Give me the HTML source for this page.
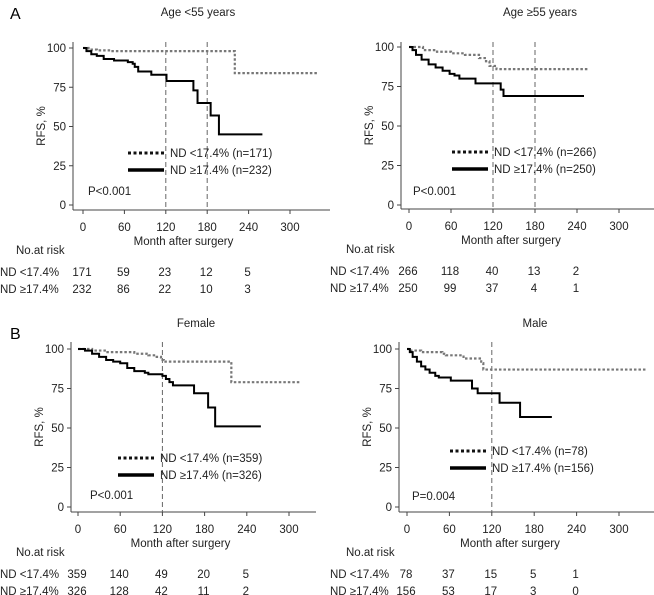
<!DOCTYPE html>
<html><head><meta charset="utf-8"><style>
body{margin:0;background:#fff;}
svg{display:block;font-family:"Liberation Sans",sans-serif;}
</style></head><body>
<svg id="fig" width="654" height="595" viewBox="0 0 654 595">
<text x="10" y="19" font-size="16">A</text>
<text x="10" y="339" font-size="16">B</text>
</svg>
<script>
// ---- data ----
const xTicks = [0, 60, 120, 180, 240, 300];
const yTicks = [0, 25, 50, 75, 100];
const titles = ["Age <55 years", "Age \u226555 years", "Female", "Male"];
const pvalues = ["P<0.001", "P<0.001", "P<0.001", "P=0.004"];
const legendLow = ["ND <17.4% (n=171)", "ND <17.4% (n=266)", "ND <17.4% (n=359)", "ND <17.4% (n=78)"];
const legendHigh = ["ND \u226517.4% (n=232)", "ND \u226517.4% (n=250)", "ND \u226517.4% (n=326)", "ND \u226517.4% (n=156)"];
const refLines = [[120, 180], [120, 180], [120], [120]];
// step curves: [month, RFS%]
const lowA1 = [[0,100],[8,99],[20,98.5],[40,98],[100,98],[220,98],[220,84],[340,84]];
const highA1 = [[0,100],[5,98],[12,96],[20,95],[30,93],[45,92],[65,91],[72,90],[75,88],[80,85],[99,83],[121,79],[160,79],[160,73],[166,65],[185,65],[185,57],[197,57],[197,45],[260,45]];
const lowA2 = [[0,100],[20,98],[40,97],[60,96],[80,95],[100,93],[110,91],[115,88],[125,86],[255,86]];
const highA2 = [[0,100],[5,98],[10,95],[18,92],[28,89],[38,87],[48,85],[58,83],[65,82],[72,80],[92,80],[95,77],[130,77],[131,73],[135,69],[250,69]];
const lowB1 = [[0,100],[20,99],[40,98],[80,97],[100,96],[110,95],[118,93],[122,92],[218,92],[218,79],[315,79]];
const highB1 = [[0,100],[10,99],[20,97],[30,95],[40,93],[50,92],[60,91],[70,88],[80,86],[95,85],[100,84],[120,83],[125,81],[130,79],[135,77],[165,77],[165,72],[185,72],[185,63],[195,63],[195,51],[260,51]];
const lowB2 = [[0,100],[5,99],[20,98],[50,97],[55,96],[80,96],[80,94],[98,94],[105,91],[108,87],[340,87]];
const highB2 = [[0,100],[4,98],[8,95],[14,92],[20,89],[26,87],[32,85],[40,83],[45,82],[62,82],[62,80],[88,80],[92,75],[100,72],[131,72],[131,66],[160,66],[160,57],[205,57]];
const lowCurves = [lowA1, lowA2, lowB1, lowB2];
const highCurves = [highA1, highA2, highB1, highB2];
const riskLow = [[171,59,23,12,5],[266,118,40,13,2],[359,140,49,20,5],[78,37,15,5,1]];
const riskHigh = [[232,86,22,10,3],[250,99,37,4,1],[326,128,42,11,2],[156,53,17,3,0]];

// ---- layout (positions) ----
const panels = [
 {x0:83, x300:290, y100:48, y0:205, axX:73, axY:210, axTop:42, axRight:330, ox:0, oy:0, titleX:198, titleY:16, legX:128, legY:153, pX:88, pY:195},
 {x0:409, x300:619, y100:47, y0:205, axX:401, axY:209, axTop:42, axRight:654, ox:330, oy:0, titleX:540, titleY:16, legX:452, legY:152, pX:413, pY:195},
 {x0:78, x300:289, y100:349, y0:507, axX:71, axY:512, axTop:342, axRight:316, ox:0, oy:300, titleX:196, titleY:327, legX:118, legY:458, pX:90, pY:499},
 {x0:407, x300:619, y100:349, y0:507, axX:399, axY:512, axTop:342, axRight:654, ox:330, oy:300, titleX:535, titleY:327, legX:450, legY:451, pX:412, pY:500}
];
const NS = "http://www.w3.org/2000/svg";
const svg = document.getElementById("fig");
function mk(tag, attrs, parent){const e=document.createElementNS(NS,tag);for(const k in attrs)e.setAttribute(k,attrs[k]);(parent||svg).appendChild(e);return e;}
function txt(x,y,s,size,anchor,parent){const t=mk("text",{x:x,y:y,"font-size":size,"text-anchor":anchor||"start",fill:"#222"},parent);t.textContent=s;return t;}

panels.forEach((p,i)=>{
  const g=mk("g",{});
  
  
  const sx=v=>p.x0+(p.x300-p.x0)*v/300;
  const sy=v=>p.y0+(p.y100-p.y0)*v/100;
  const t=txt(p.titleX,p.titleY,titles[i],11.5,"middle",g);
  
  
  const ya=mk("line",{x1:p.axX,y1:p.axTop,x2:p.axX,y2:p.axY,stroke:"#444","stroke-width":1},g);
  
  
  const xa=mk("line",{x1:p.axX,y1:p.axY,x2:p.axRight,y2:p.axY,stroke:"#444","stroke-width":1},g);
  
  
  yTicks.forEach(v=>{
    mk("line",{x1:p.axX-4,y1:sy(v),x2:p.axX,y2:sy(v),stroke:"#444"},g);
    const l=txt(p.axX-7,sy(v)+4,String(v),11.5,"end",g);
    
    
  });
  xTicks.forEach(v=>{
    mk("line",{x1:sx(v),y1:p.axY,x2:sx(v),y2:p.axY+4,stroke:"#444"},g);
    const l=txt(sx(v),p.axY+21,String(v),11.5,"middle",g);
    
    
  });
  const yl=txt(0,0,"RFS, %",11.5,"middle",g);
  yl.setAttribute("transform",`translate(${p.axX-28},${(p.axTop+p.axY)/2}) rotate(-90)`);
  
  
  const xl=txt(sx(150)-3,p.axY+35,"Month after surgery",11.5,"middle",g);
  
  
  refLines[i].forEach(v=>{
    const r=mk("line",{x1:sx(v),y1:p.axTop,x2:sx(v),y2:p.axY,stroke:"#666","stroke-width":1,"stroke-dasharray":"5,3"},g);
    
    
  });
  function stepPath(pts){let d="";pts.forEach((q,k)=>{if(k===0)d+=`M${sx(q[0])},${sy(q[1])}`;else{d+=`H${sx(q[0])}V${sy(q[1])}`;}});return d;}
  const lo=mk("path",{d:stepPath(lowCurves[i]),fill:"none",stroke:"#777","stroke-width":2.2,"stroke-dasharray":"2.5,2"},g);
  
  
  const hi=mk("path",{d:stepPath(highCurves[i]),fill:"none",stroke:"#000","stroke-width":2},g);
  
  
  const l1=mk("line",{x1:p.legX,y1:p.legY,x2:p.legX+36,y2:p.legY,stroke:"#111","stroke-width":3,"stroke-dasharray":"3,2.5"},g);
  
  
  const lt1=txt(p.legX+42,p.legY+4,legendLow[i],11.5,"start",g);
  
  
  const l2=mk("line",{x1:p.legX,y1:p.legY+17,x2:p.legX+36,y2:p.legY+17,stroke:"#000","stroke-width":3.5},g);
  
  
  const lt2=txt(p.legX+42,p.legY+21,legendHigh[i],11.5,"start",g);
  
  
  const pv=txt(p.pX,p.pY,pvalues[i],11.5,"start",g);
  
  
  const nr=txt(p.ox+16,p.axY+44,"No.at risk",11.5,"start",g);
  
  
  const r1y=p.axY+66, r2y=p.axY+83;
  const rl1=txt(p.ox,r1y,"ND <17.4%",11.5,"start",g);
  
  
  const rl2=txt(p.ox,r2y,"ND \u226517.4%",11.5,"start",g);
  
  
  riskLow[i].forEach((v,k)=>{
    const c=txt(sx(xTicks[k])-1,r1y,String(v),11.5,"middle",g);
    
    
  });
  riskHigh[i].forEach((v,k)=>{
    const c=txt(sx(xTicks[k])-1,r2y,String(v),11.5,"middle",g);
    
    
  });
});
</script>
</body></html>
